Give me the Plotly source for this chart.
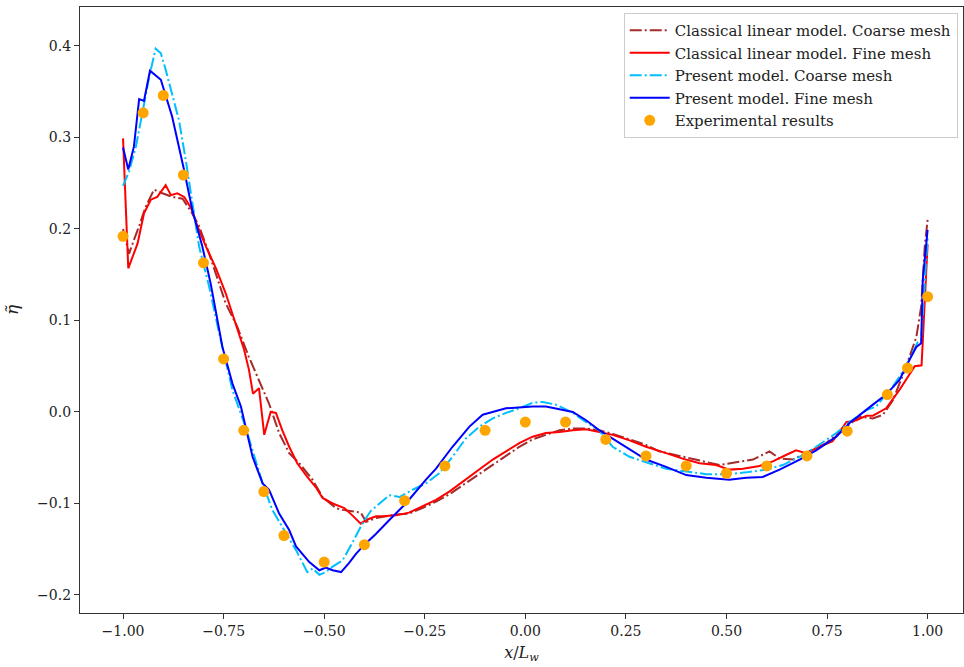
import plotly.graph_objects as go

# ---- Data ----
exp_x = [-1.0, -0.95, -0.9, -0.85, -0.8, -0.75, -0.7, -0.65, -0.6, -0.5, -0.4, -0.3, -0.2, -0.1,
         0.0, 0.1, 0.2, 0.3, 0.4, 0.5, 0.6, 0.7, 0.8, 0.9, 0.95, 1.0]
exp_y = [0.192, 0.327, 0.346, 0.259, 0.163, 0.058, -0.020, -0.087, -0.135, -0.164, -0.145, -0.097,
         -0.059, -0.020, -0.011, -0.011, -0.030, -0.048, -0.059, -0.067, -0.059, -0.048, -0.021,
         0.019, 0.048, 0.126]

pf_x = [-1.0, -0.987, -0.973, -0.96, -0.948, -0.933, -0.906, -0.878, -0.848, -0.828, -0.803, -0.782,
        -0.753, -0.728, -0.707, -0.678, -0.653, -0.637, -0.612, -0.587, -0.570, -0.537, -0.512,
        -0.496, -0.479, -0.458, -0.438, -0.421, -0.4, -0.371, -0.338, -0.297, -0.247, -0.222,
        -0.181, -0.139, -0.106, -0.048, 0.018, 0.051, 0.085, 0.118, 0.151, 0.184, 0.209, 0.250,
        0.300, 0.350, 0.400, 0.450, 0.507, 0.549, 0.590, 0.632, 0.682, 0.723, 0.773, 0.806, 0.848,
        0.864, 0.897, 0.930, 0.955, 0.972, 0.984, 0.988, 1.0]
pf_y = [0.289, 0.265, 0.290, 0.342, 0.340, 0.373, 0.363, 0.323, 0.264, 0.221, 0.181, 0.140, 0.071,
        0.031, 0.006, -0.049, -0.078, -0.085, -0.111, -0.129, -0.147, -0.164, -0.173, -0.170,
        -0.173, -0.175, -0.165, -0.155, -0.145, -0.133, -0.118, -0.100, -0.074, -0.062, -0.038,
        -0.016, -0.003, 0.004, 0.006, 0.006, 0.003, 0.000, -0.009, -0.020, -0.027, -0.038, -0.052,
        -0.060, -0.069, -0.072, -0.074, -0.072, -0.071, -0.063, -0.052, -0.042, -0.027, -0.012,
        0.003, 0.008, 0.019, 0.035, 0.057, 0.071, 0.075, 0.144, 0.199]

pc_x = [-1.0, -0.985, -0.968, -0.952, -0.935, -0.919, -0.906, -0.894, -0.877, -0.861, -0.844,
        -0.828, -0.811, -0.786, -0.761, -0.736, -0.728, -0.699, -0.678, -0.653, -0.629, -0.595,
        -0.570, -0.542, -0.529, -0.512, -0.496, -0.479, -0.454, -0.430, -0.405, -0.384, -0.363,
        -0.338, -0.313, -0.280, -0.247, -0.214, -0.181, -0.148, -0.114, -0.081, -0.048, -0.015,
        0.018, 0.043, 0.076, 0.118, 0.151, 0.184, 0.217, 0.259, 0.300, 0.350, 0.400, 0.450, 0.500,
        0.549, 0.599, 0.640, 0.682, 0.723, 0.773, 0.806, 0.848, 0.872, 0.914, 0.947, 0.976, 0.984,
        1.0]
pc_y = [0.247, 0.263, 0.290, 0.326, 0.366, 0.397, 0.392, 0.374, 0.345, 0.319, 0.275, 0.228, 0.181,
        0.137, 0.086, 0.039, 0.024, -0.012, -0.042, -0.078, -0.107, -0.133, -0.151, -0.175,
        -0.171, -0.178, -0.175, -0.169, -0.162, -0.143, -0.122, -0.108, -0.100, -0.091, -0.093,
        -0.085, -0.078, -0.067, -0.049, -0.029, -0.016, -0.007, -0.001, 0.004, 0.010, 0.011,
        0.008, -0.001, -0.011, -0.020, -0.038, -0.049, -0.055, -0.062, -0.065, -0.068, -0.068,
        -0.066, -0.063, -0.058, -0.049, -0.038, -0.023, -0.011, 0.002, 0.006, 0.028, 0.050,
        0.077, 0.079, 0.190]

cf_x = [-1.0, -0.987, -0.964, -0.948, -0.931, -0.915, -0.894, -0.881, -0.865, -0.848, -0.831,
        -0.815, -0.794, -0.769, -0.745, -0.720, -0.699, -0.687, -0.677, -0.662, -0.649, -0.633,
        -0.620, -0.604, -0.587, -0.567, -0.542, -0.521, -0.504, -0.479, -0.450, -0.430, -0.409,
        -0.396, -0.371, -0.355, -0.322, -0.289, -0.256, -0.222, -0.189, -0.148, -0.114, -0.081,
        -0.048, -0.015, 0.018, 0.051, 0.085, 0.118, 0.151, 0.184, 0.217, 0.259, 0.300, 0.350,
        0.391, 0.433, 0.474, 0.507, 0.541, 0.582, 0.615, 0.648, 0.673, 0.698, 0.731, 0.764, 0.798,
        0.823, 0.848, 0.864, 0.881, 0.897, 0.930, 0.955, 0.968, 0.985, 1.0]
cf_y = [0.299, 0.157, 0.184, 0.217, 0.232, 0.235, 0.248, 0.237, 0.239, 0.235, 0.223, 0.203, 0.181,
        0.157, 0.130, 0.097, 0.068, 0.046, 0.020, 0.026, -0.025, 0.000, -0.001, -0.020, -0.038,
        -0.056, -0.071, -0.082, -0.094, -0.100, -0.105, -0.113, -0.122, -0.118, -0.114, -0.114,
        -0.113, -0.110, -0.103, -0.096, -0.087, -0.074, -0.063, -0.052, -0.043, -0.034, -0.027,
        -0.023, -0.022, -0.020, -0.019, -0.022, -0.025, -0.031, -0.038, -0.045, -0.051, -0.056,
        -0.058, -0.063, -0.062, -0.059, -0.054, -0.047, -0.042, -0.045, -0.038, -0.032, -0.011,
        -0.009, -0.004, -0.004, 0.000, 0.004, 0.024, 0.042, 0.050, 0.051, 0.183]

cc_x = [-1.0, -0.985, -0.973, -0.960, -0.944, -0.923, -0.902, -0.877, -0.852, -0.828, -0.811,
        -0.786, -0.745, -0.716, -0.687, -0.662, -0.637, -0.612, -0.587, -0.562, -0.529, -0.504,
        -0.471, -0.454, -0.430, -0.409, -0.396, -0.371, -0.322, -0.289, -0.256, -0.222, -0.189,
        -0.148, -0.114, -0.073, -0.048, -0.015, 0.018, 0.051, 0.085, 0.118, 0.151, 0.184, 0.217,
        0.259, 0.300, 0.333, 0.391, 0.441, 0.483, 0.524, 0.566, 0.607, 0.632, 0.665, 0.698, 0.748,
        0.798, 0.831, 0.864, 0.889, 0.914, 0.947, 0.972, 0.984, 0.993, 1.0]
cc_y = [0.200, 0.173, 0.188, 0.203, 0.224, 0.243, 0.239, 0.235, 0.233, 0.217, 0.203, 0.173, 0.119,
        0.093, 0.060, 0.035, 0.009, -0.023, -0.045, -0.056, -0.074, -0.093, -0.105, -0.107,
        -0.109, -0.110, -0.120, -0.116, -0.112, -0.111, -0.105, -0.098, -0.090, -0.078, -0.068,
        -0.056, -0.048, -0.038, -0.030, -0.025, -0.020, -0.018, -0.018, -0.020, -0.024, -0.030,
        -0.036, -0.043, -0.049, -0.054, -0.058, -0.055, -0.052, -0.043, -0.051, -0.052, -0.045,
        -0.034, -0.016, -0.005, -0.007, -0.003, 0.013, 0.050, 0.082, 0.115, 0.181, 0.210]

x_ticks = [-1.0, -0.75, -0.5, -0.25, 0.0, 0.25, 0.5, 0.75, 1.0]
y_ticks = [-0.2, -0.1, 0.0, 0.1, 0.2, 0.3, 0.4]

FONT = "DejaVu Serif, Liberation Serif, serif"
DASHDOT = "12px,3px,2px,3px"

fig = go.Figure()
fig.add_trace(go.Scatter(x=cc_x, y=cc_y, mode="lines", name="Classical linear model. Coarse mesh",
                         line=dict(color="#A52A2A", width=2, dash=DASHDOT)))
fig.add_trace(go.Scatter(x=cf_x, y=cf_y, mode="lines", name="Classical linear model. Fine mesh",
                         line=dict(color="#FF0000", width=2)))
fig.add_trace(go.Scatter(x=pc_x, y=pc_y, mode="lines", name="Present model. Coarse mesh",
                         line=dict(color="#00BFFF", width=2, dash=DASHDOT)))
fig.add_trace(go.Scatter(x=pf_x, y=pf_y, mode="lines", name="Present model. Fine mesh",
                         line=dict(color="#0000FF", width=2)))
fig.add_trace(go.Scatter(x=exp_x, y=exp_y, mode="markers", name="Experimental results",
                         marker=dict(color="#FFA500", size=11)))

fig.update_layout(
    width=964, height=667,
    margin=dict(l=80, r=1, t=7, b=54, autoexpand=False),
    paper_bgcolor="white", plot_bgcolor="white",
    font=dict(family=FONT, size=14, color="#222"),
    showlegend=True,
    legend=dict(x=0.994, y=0.99, xanchor="right", yanchor="top",
                bgcolor="rgba(255,255,255,0.8)", bordercolor="#cccccc", borderwidth=1,
                font=dict(family=FONT, size=15), tracegroupgap=0, itemwidth=40),
)
fig.update_xaxes(
    range=[-1.107, 1.088], tickvals=x_ticks, tickformat=".2f", automargin=False,
    showgrid=False, zeroline=False, showline=True, linecolor="#333", linewidth=1.2,
    mirror=True, ticks="outside", ticklen=5, tickcolor="#333",
    tickfont=dict(family=FONT, size=14),
    title=dict(text="<i>x</i>/<i>L</i><sub><i>w</i></sub>", font=dict(family=FONT, size=16), standoff=8),
)
fig.update_yaxes(
    range=[-0.2197, 0.4426], tickvals=y_ticks, tickformat=".1f", automargin=False,
    showgrid=False, zeroline=False, showline=True, linecolor="#333", linewidth=1.2,
    mirror=True, ticks="outside", ticklen=5, tickcolor="#333",
    tickfont=dict(family=FONT, size=14),
    title=dict(text="<i>η̃</i>", font=dict(family=FONT, size=17), standoff=14),
)

fig.write_html("out.html", config={"displayModeBar": False},
               post_script="document.body.style.margin='0';document.body.style.overflow='hidden';")
